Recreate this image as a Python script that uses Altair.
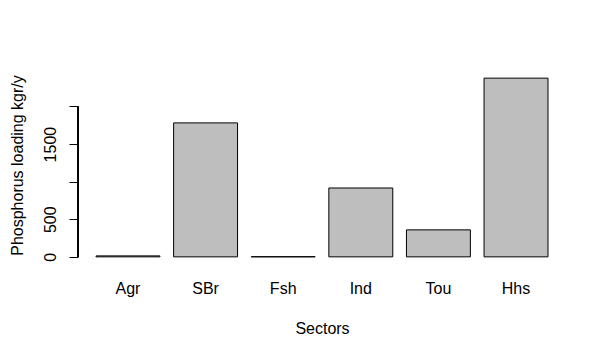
import altair as alt
import pandas as pd

sectors = ["Agr", "SBr", "Fsh", "Ind", "Tou", "Hhs"]
loading = [13, 1782, 2, 916, 359, 2377]
y_ticks = [0, 500, 1000, 1500, 2000]

df = pd.DataFrame({"Sector": sectors, "Loading": loading, "Base": [0] * len(sectors)})

FONT = "Liberation Sans"

y_scale = alt.Scale(domain=[-95, 2472], nice=False, zero=False)

bars = alt.Chart(df).mark_bar(fill="#bebebe", stroke="black", strokeWidth=1).encode(
    x=alt.X(
        "Sector:N",
        sort=None,
        scale=alt.Scale(paddingInner=0.176, paddingOuter=0.232),
        axis=alt.Axis(
            title="Sectors",
            labelAngle=0,
            domain=False,
            ticks=False,
            tickSize=0,
            labelPadding=29,
            labelBaseline="alphabetic",
            labelFontSize=16,
            labelFont=FONT,
            labelColor="black",
            titleFont=FONT,
            titleFontSize=16,
            titleFontWeight="normal",
            titleColor="black",
            titleBaseline="alphabetic",
            titleY=69,
        ),
    ),
    y=alt.Y(
        "Loading:Q",
        scale=y_scale,
        axis=alt.Axis(
            title="Phosphorus loading kgr/y",
            values=y_ticks,
            format="d",
            labelExpr="(datum.value == 1000 || datum.value == 2000) ? '' : datum.label",
            domain=False,
            grid=False,
            tickColor="black",
            tickSize=9,
            tickWidth=1,
            labelPadding=14,
            labelAngle=270,
            labelAlign="center",
            labelBaseline="alphabetic",
            labelFontSize=16,
            labelFont=FONT,
            labelColor="black",
            titleFont=FONT,
            titleFontSize=16,
            titleFontWeight="normal",
            titleColor="black",
            titleAngle=270,
            titleAlign="center",
            titleBaseline="alphabetic",
            titleX=-56,
            titleY=94,
        ),
    ),
    y2="Base:Q",
)

axis_line = alt.Chart(df).mark_rule(color="black", strokeWidth=1).encode(
    x=alt.value(0),
    y=alt.datum(y_ticks[0], scale=y_scale),
    y2=alt.datum(y_ticks[-1]),
)

chart = alt.layer(bars, axis_line).properties(
    width=488,
    height=193,
    autosize=alt.AutoSizeParams(type="none"),
    padding={"left": 70, "top": 63, "right": 30, "bottom": 78},
    background="white",
).configure_view(stroke=None)

chart.save("out.html", embed_options={"renderer": "svg", "actions": False})
